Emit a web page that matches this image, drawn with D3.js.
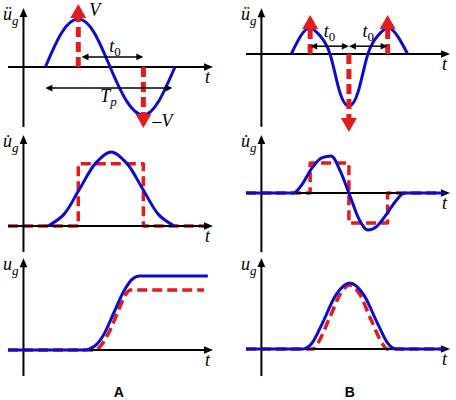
<!DOCTYPE html>
<html>
<head>
<meta charset="utf-8">
<script src="https://cdn.jsdelivr.net/npm/d3@7"></script>
<style>
  body { margin: 0; background: #fff; }
</style>
</head>
<body>
<svg id="chart" width="456" height="400"></svg>
<script>
const svg = d3.select("#chart");
const blue = "#0c0ccc", red = "#e31b1d";
const serif = "'Liberation Serif', 'Times New Roman', Times, serif";

// time axis shared by every panel (sketch units, 0 = vertical axis)
const tDomain = [-1.2, 14.7];

// ---- column A : one full sine pulse ----
const accA = [[1.7,0],[2.95,0.71],[4.25,1],[5.5,0.71],[6.72,0],[8.0,-0.71],[9.3,-1],[10.5,-0.71],[11.75,0]];
const pulsesA = [{t: 4.25, tip: 1.31}, {t: 9.3, tip: -1.27}];
const velA = [[1.9,0],[3.1,0.15],[4.35,0.5],[5.6,0.85],[6.8,1],[8.0,0.85],[9.25,0.5],[10.5,0.15],[11.7,0]];
const velStepA = [[-1.2,0],[4.25,0],[4.25,0.84],[9.3,0.84],[9.3,0],[14.2,0]];
const dispA = [[-1.2,0],[4.7,0],[5.5,0.05],[6.2,0.2],[7.0,0.5],[7.8,0.8],[8.4,0.95],[9.0,1],[14.3,1]];
const dispRampA = [[-1.2,0],[5.6,0],[6.0,0.06],[6.8,0.3],[7.4,0.55],[8.0,0.77],[8.3,0.81],[14.0,0.81]];

// ---- column B : three-lobe pulse ----
const accB = [[2.33,0],[3.07,0.35],[3.8,0.5],[4.57,0.35],[5.35,0],[6.08,-0.71],[6.82,-1],[7.56,-0.71],[8.3,0],[9.07,0.35],[9.84,0.5],[10.6,0.35],[11.4,0]];
const pulsesB = [{t: 3.8, tip: 0.75}, {t: 6.82, tip: -1.5}, {t: 9.84, tip: 0.75}];
const velB = [[-1.2,0],[2.5,0],[3.1,0.2],[3.95,0.68],[4.7,0.95],[5.43,1],[6.2,0.55],[6.82,0],[7.6,-0.7],[8.3,-1],[9.0,-0.9],[9.7,-0.6],[10.4,-0.25],[11.16,0],[14.3,0]];
const velStepB = [[-1.2,0],[3.8,0],[3.8,0.81],[6.82,0.81],[6.82,-0.81],[9.84,-0.81],[9.84,0],[14.3,0]];
const dispB = [[-1.2,0],[3.26,0],[3.95,0.09],[4.73,0.38],[5.81,0.82],[6.9,1],[7.98,0.82],[9.07,0.38],[9.84,0.09],[10.54,0],[14.3,0]];
const dispTriB = [[-1.2,0],[4.03,0],[4.34,0.07],[5.27,0.45],[6.2,0.85],[6.9,0.97],[7.6,0.85],[8.53,0.45],[9.46,0.07],[9.77,0],[14.3,0]];

// y axis labels: base letter + mark
const labels = [{u: "\u00fc"}, {u: "u\u0307"}, {u: "u"}];

// panel layout: x range in px, y of zero line, px per unit, axis extent in units
const panels = {
  A1: {xr: [8, 213], y0: 67, unit: 48, ext: [-1.25, 1.23], label: labels[0]},
  A2: {xr: [8, 213], y0: 226, unit: 74, ext: [-0.35, 1.23], label: labels[1]},
  A3: {xr: [8, 213], y0: 350, unit: 74, ext: [-0.35, 1.24], label: labels[2]},
  B1: {xr: [246, 450], y0: 54, unit: 52, ext: [-1.4, 0.88], label: labels[0]},
  B2: {xr: [246, 450], y0: 193, unit: 37, ext: [-1.6, 1.57], label: labels[1]},
  B3: {xr: [246, 450], y0: 349, unit: 66, ext: [-0.41, 1.38], label: labels[2]}
};

function head(g, tx, ty, dx, dy, len, hw, color) {
  // triangle with tip at (tx,ty), pointing along (dx,dy)
  const bx = tx - dx * len, by = ty - dy * len;
  const px = -dy * hw, py = dx * hw;
  g.append("path")
    .attr("d", `M${tx},${ty}L${bx + px},${by + py}L${bx - px},${by - py}Z`)
    .attr("fill", color);
}

function italic(g, x, y, size) {
  return g.append("text")
    .attr("x", x).attr("y", y)
    .attr("font-family", serif)
    .attr("font-style", "italic")
    .attr("font-size", size);
}

function makePanel(cfg) {
  const x = d3.scaleLinear().domain(tDomain).range(cfg.xr);
  const y = d3.scaleLinear().domain([0, 1]).range([cfg.y0, cfg.y0 - cfg.unit]);
  const g = svg.append("g");
  return {x, y, g, cfg};
}

function drawAxes(p) {
  const g = p.g, x = p.x, y = p.y;
  const x1 = x(tDomain[1]), yTop = y(p.cfg.ext[1]);
  g.append("line")
    .attr("x1", x(tDomain[0])).attr("x2", x1 - 5)
    .attr("y1", y(0)).attr("y2", y(0))
    .attr("stroke", "#000").attr("stroke-width", 2);
  head(g, x1, y(0), 1, 0, 9, 3.8, "#000");
  g.append("line")
    .attr("x1", x(0)).attr("x2", x(0))
    .attr("y1", y(p.cfg.ext[0])).attr("y2", yTop + 5)
    .attr("stroke", "#000").attr("stroke-width", 2);
  head(g, x(0), yTop, 0, -1, 9, 3.8, "#000");

  // t label
  italic(g, x1 - 8, y(0) + 16, 18).text("t");

  // u_g label
  const lab = italic(g, x(tDomain[0]) - 5, yTop + 12, 18);
  lab.append("tspan").text(p.cfg.label.u);
  lab.append("tspan").attr("dy", 5).attr("font-size", 13).text("g");
}

function curve(p, data, color, width, dashed, kind) {
  const line = d3.line()
    .x(d => p.x(d[0])).y(d => p.y(d[1]))
    .curve(kind || d3.curveLinear);
  p.g.append("path")
    .datum(data)
    .attr("d", line)
    .attr("fill", "none")
    .attr("stroke", color)
    .attr("stroke-width", width)
    .attr("stroke-dasharray", dashed ? "10,5" : null)
    .attr("stroke-linejoin", "round");
}

function redArrow(p, pulse) {
  const x = p.x(pulse.t), yb = p.y(0), yt = p.y(pulse.tip);
  const dir = yt < yb ? -1 : 1;
  p.g.append("line")
    .attr("x1", x).attr("x2", x)
    .attr("y1", yb).attr("y2", yt - dir * 12)
    .attr("stroke", red).attr("stroke-width", 5)
    .attr("stroke-dasharray", "10,5");
  head(p.g, x, yt, 0, dir, 14, 8, red);
}

function blackArrow(p, ta, tb, v) {
  const xa = p.x(ta), xb = p.x(tb), yy = p.y(v);
  p.g.append("line")
    .attr("x1", xa + 4).attr("x2", xb - 4)
    .attr("y1", yy).attr("y2", yy)
    .attr("stroke", "#000").attr("stroke-width", 1.5);
  head(p.g, xa, yy, -1, 0, 7, 3.3, "#000");
  head(p.g, xb, yy, 1, 0, 7, 3.3, "#000");
}

function subLabel(p, x, y, main, sub, italicSub) {
  const t = italic(p.g, x, y, 18).attr("text-anchor", "middle");
  t.append("tspan").text(main);
  t.append("tspan").attr("dy", 4).attr("font-size", 13)
    .attr("font-style", italicSub ? "italic" : "normal").text(sub);
}

// ----- A1 -----
const a1 = makePanel(panels.A1);
drawAxes(a1);
curve(a1, accA, blue, 3, false, d3.curveNatural);
pulsesA.forEach(d => redArrow(a1, d));
blackArrow(a1, 4.5, 9.3, 0.21);
blackArrow(a1, 1.7, 11.55, -0.44);
subLabel(a1, a1.x(6.875) + 3, a1.y(0.21) - 5, "t", "0", false);
subLabel(a1, a1.x(6.6), a1.y(-0.44) + 14, "T", "p", true);
italic(a1.g, a1.x(pulsesA[0].t) + 11, a1.y(pulsesA[0].tip) + 12, 18).text("V");
italic(a1.g, a1.x(pulsesA[1].t) + 9, a1.y(pulsesA[1].tip) - 1, 18).text("\u2013V");

// ----- A2 -----
const a2 = makePanel(panels.A2);
curve(a2, velStepA, red, 3.5, true);
drawAxes(a2);
curve(a2, velA, blue, 3, false, d3.curveCatmullRom);

// ----- A3 -----
const a3 = makePanel(panels.A3);
curve(a3, dispRampA, red, 3.5, true, d3.curveMonotoneX);
drawAxes(a3);
curve(a3, dispA, blue, 3, false, d3.curveMonotoneX);

// ----- B1 -----
const b1 = makePanel(panels.B1);
drawAxes(b1);
curve(b1, accB, blue, 3, false, d3.curveNatural);
pulsesB.forEach(d => redArrow(b1, d));
blackArrow(b1, 3.8, 6.82, 0.15);
blackArrow(b1, 6.82, 9.84, 0.15);
subLabel(b1, b1.x(5.31), b1.y(0.15) - 9, "t", "0", false);
subLabel(b1, b1.x(8.33), b1.y(0.15) - 9, "t", "0", false);

// ----- B2 -----
const b2 = makePanel(panels.B2);
curve(b2, velStepB, red, 3.5, true);
drawAxes(b2);
curve(b2, velB, blue, 3, false, d3.curveMonotoneX);

// ----- B3 -----
const b3 = makePanel(panels.B3);
curve(b3, dispTriB, red, 3.5, true, d3.curveMonotoneX);
drawAxes(b3);
curve(b3, dispB, blue, 3, false, d3.curveMonotoneX);

// column names
svg.append("text")
  .attr("font-family", "'Liberation Sans', Arial, sans-serif")
  .attr("font-weight", "bold").attr("font-size", 14)
  .attr("x", a3.x(7.4)).attr("y", 397).attr("text-anchor", "middle").text("A");
svg.append("text")
  .attr("font-family", "'Liberation Sans', Arial, sans-serif")
  .attr("font-weight", "bold").attr("font-size", 14)
  .attr("x", b3.x(6.9)).attr("y", 397).attr("text-anchor", "middle").text("B");
</script>
</body>
</html>
